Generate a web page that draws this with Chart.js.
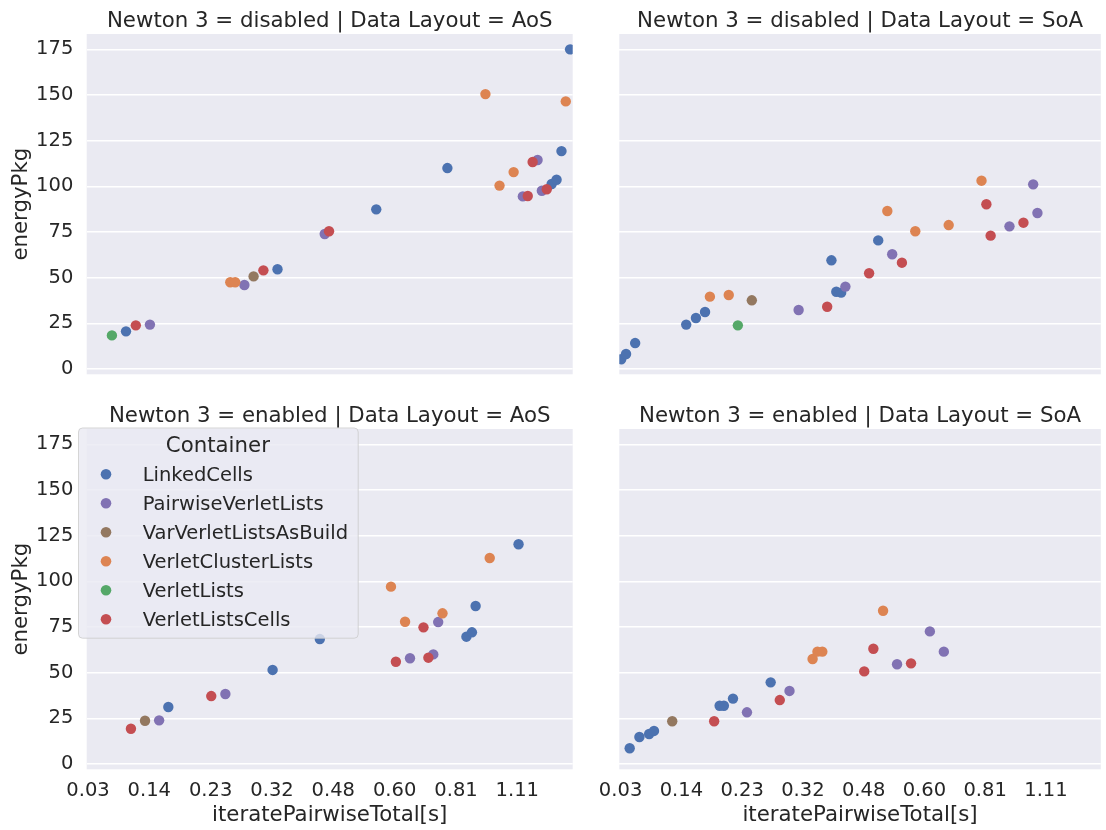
<!DOCTYPE html>
<html>
<head>
<meta charset="utf-8">
<script src="https://cdn.jsdelivr.net/npm/chart.js@4.4.1/dist/chart.umd.min.js"></script>
<style>
  html, body { margin: 0; padding: 0; background: #ffffff; }
  #wrap { position: relative; width: 1106px; height: 830px; overflow: hidden; }
  #wrap canvas { position: absolute; left: 0; top: 0; }
</style>
</head>
<body>
<div id="wrap">
  <canvas id="cTL" width="1106" height="830"></canvas>
  <canvas id="cTR" width="1106" height="830"></canvas>
  <canvas id="cBL" width="1106" height="830"></canvas>
  <canvas id="cBR" width="1106" height="830"></canvas>
</div>
<script>
// ---------------- DATA ----------------
const containers = ["LinkedCells", "PairwiseVerletLists", "VarVerletListsAsBuild",
                    "VerletClusterLists", "VerletLists", "VerletListsCells"];
const containerColors = ["#4C72B0", "#8172B3", "#937860", "#DD8452", "#55A868", "#C44E52"];

// x axis is an evenly spaced (categorical-like) axis; positions are in tick units
const xTickLabels = ["0.03", "0.14", "0.23", "0.32", "0.48", "0.60", "0.81", "1.11"];
const yTicks = [0, 25, 50, 75, 100, 125, 150, 175];

// Newton 3 = disabled | Data Layout = AoS
const offAoS_x = [0.39, 0.62, 0.78, 1.01, 2.32, 2.40, 2.55, 2.70, 2.86, 3.09, 3.86, 3.93, 4.70, 5.86,
                  6.48, 6.71, 6.94, 7.09, 7.17, 7.33, 7.25, 7.40, 7.48, 7.56, 7.64, 7.72, 7.79, 7.86];
const offAoS_y = [18.4, 20.6, 23.9, 24.3, 47.5, 47.5, 46.0, 50.7, 54.0, 54.6, 73.9, 75.4, 87.4, 110.0,
                  150.5, 100.4, 107.8, 94.5, 94.7, 114.4, 113.3, 97.6, 98.4, 101.3, 103.6, 119.3, 146.5, 175.0];
const offAoS_c = [4, 0, 5, 1, 3, 3, 1, 2, 5, 0, 1, 5, 0, 0,
                  3, 3, 3, 1, 5, 1, 5, 1, 5, 0, 0, 0, 3, 0];

// Newton 3 = disabled | Data Layout = SoA
const offSoA_x = [0.01, 0.09, 0.24, 1.08, 1.24, 1.39, 1.47, 1.78, 1.93, 2.16, 2.93, 3.40, 3.47, 3.55, 3.63,
                  3.70, 4.09, 4.24, 4.39, 4.47, 4.63, 4.85, 5.40, 5.94, 6.02, 6.09, 6.40, 6.63, 6.79, 6.86];
const offSoA_y = [5.3, 8.2, 14.2, 24.3, 27.9, 31.2, 39.6, 40.5, 23.9, 37.6, 32.3, 34.1, 59.5, 42.3, 41.8,
                  45.1, 52.4, 70.4, 86.5, 62.8, 58.2, 75.4, 78.8, 103.1, 90.2, 73.0, 78.1, 80.1, 101.1, 85.4];
const offSoA_c = [0, 0, 0, 0, 0, 0, 3, 3, 4, 2, 1, 5, 0, 0, 0,
                  1, 5, 0, 3, 1, 5, 3, 3, 3, 5, 5, 1, 5, 1, 1];

// Newton 3 = enabled | Data Layout = AoS
const onAoS_x = [0.70, 0.93, 1.16, 1.31, 2.01, 2.24, 3.01, 3.78, 4.94, 5.17, 5.02,
                 5.25, 5.47, 5.71, 5.78, 5.63, 5.55, 6.17, 6.26, 6.32, 6.55, 7.02];
const onAoS_y = [19.3, 23.7, 23.9, 31.2, 37.2, 38.3, 51.5, 68.4, 97.1, 77.9, 56.0,
                 57.9, 74.8, 77.7, 82.5, 60.0, 58.2, 69.7, 72.1, 86.5, 112.8, 120.3];
const onAoS_c = [5, 2, 1, 0, 5, 1, 0, 0, 3, 3, 5,
                 1, 5, 1, 3, 1, 5, 0, 0, 0, 3, 0];

// Newton 3 = enabled | Data Layout = SoA
const onSoA_x = [0.15, 0.31, 0.47, 0.55, 0.85, 1.54, 1.63, 1.70, 1.85, 2.08, 2.47, 2.62,
                 2.78, 3.16, 3.24, 3.32, 4.01, 4.16, 4.32, 4.55, 4.78, 5.09, 5.32];
const onSoA_y = [8.6, 14.8, 16.4, 18.1, 23.4, 23.4, 31.9, 31.9, 35.8, 28.3, 44.7, 35.0,
                 40.0, 57.5, 61.5, 61.5, 50.7, 63.1, 83.9, 54.6, 55.1, 72.6, 61.5];
const onSoA_c = [0, 0, 0, 0, 2, 5, 0, 0, 0, 1, 0, 5,
                 1, 3, 3, 3, 5, 5, 3, 1, 5, 1, 1];

// ---------------- STYLE / LAYOUT ----------------
const FONT = "'DejaVu Sans', 'Liberation Sans', sans-serif";
const TEXT = "#262626";
const BG = "#EAEAF2";
const TICK_SIZE = 19.5;
const LABEL_SIZE = 21.3;
const X_RANGE = [-0.021, 7.903];
const Y_RANGE = [-2.9, 183.4];

Chart.defaults.font.family = FONT;
Chart.defaults.color = TEXT;

const panelPlugin = {
  id: 'panel',
  beforeDraw(chart, args, opts) {
    const { ctx, chartArea: a } = chart;
    ctx.save();
    ctx.fillStyle = BG;
    ctx.fillRect(a.left, a.top, a.right - a.left, a.bottom - a.top);
    ctx.restore();
  },
  afterDraw(chart, args, opts) {
    const { ctx, chartArea: a } = chart;
    ctx.save();
    ctx.fillStyle = TEXT;
    ctx.font = LABEL_SIZE + "px " + FONT;
    ctx.textAlign = 'center';
    ctx.textBaseline = 'alphabetic';
    ctx.fillText(opts.text || '', (a.left + a.right) / 2, a.top - 7.3);
    ctx.restore();
  }
};

const boxLegendPlugin = {
  id: 'boxLegend',
  afterDatasetsDraw(chart, args, opts) {
    if (!opts.show) return;
    const ctx = chart.ctx;
    const L = 78, T = 427.5, W = 279.7, H = 210.2, R = 4;
    ctx.save();
    ctx.beginPath();
    ctx.roundRect(L + 0.5, T + 0.5, W, H, R);
    ctx.fillStyle = "rgba(234,234,242,0.8)";
    ctx.fill();
    ctx.strokeStyle = "rgba(204,204,204,0.8)";
    ctx.lineWidth = 1;
    ctx.stroke();
    ctx.fillStyle = TEXT;
    ctx.font = LABEL_SIZE + "px " + FONT;
    ctx.textAlign = 'center';
    ctx.textBaseline = 'alphabetic';
    ctx.fillText(opts.title, L + W / 2, 451.5);
    ctx.font = TICK_SIZE + "px " + FONT;
    ctx.textAlign = 'left';
    chart.data.datasets.forEach((ds, i) => {
      const cy = 474.3 + 29 * i;
      ctx.beginPath();
      ctx.arc(106, cy, 5.3, 0, Math.PI * 2);
      ctx.fillStyle = ds.backgroundColor;
      ctx.fill();
      ctx.fillStyle = TEXT;
      ctx.fillText(ds.label, 142.7, cy + 7.1);
    });
    ctx.restore();
  }
};

function buildDatasets(xs, ys, cs) {
  return containers.map((name, k) => ({
    label: name,
    data: xs.map((x, i) => ({ x: x, y: ys[i], c: cs[i] })).filter(p => p.c === k),
    backgroundColor: containerColors[k],
    borderWidth: 0,
    pointRadius: 5.2,
    pointHoverRadius: 5.2,
    showLine: false,
    clip: 0,
    order: -k
  }));
}

function makeChart(id, p) {
  const yAxisW = p.leftCol ? 86.7 : 0;
  const xAxisH = p.bottomRow ? (830 - p.bottom) : 0;
  new Chart(document.getElementById(id), {
    type: 'scatter',
    data: { datasets: buildDatasets(p.xs, p.ys, p.cs) },
    plugins: [panelPlugin, boxLegendPlugin],
    options: {
      responsive: false,
      animation: false,
      events: [],
      layout: {
        padding: {
          left: p.left - yAxisW,
          top: p.top,
          right: 1106 - p.right,
          bottom: 830 - p.bottom - xAxisH
        }
      },
      plugins: {
        legend: { display: false },
        tooltip: { enabled: false },
        panel: { text: p.title },
        boxLegend: { show: !!p.legend, title: "Container" }
      },
      scales: {
        x: {
          type: 'linear',
          min: X_RANGE[0], max: X_RANGE[1],
          afterBuildTicks: s => { s.ticks = xTickLabels.map((_, i) => ({ value: i })); },
          afterFit: s => { s.height = xAxisH; },
          ticks: {
            display: p.bottomRow,
            callback: (v, i) => xTickLabels[i],
            font: { size: TICK_SIZE, family: FONT },
            color: TEXT,
            padding: 9.5,
            maxRotation: 0, autoSkip: false
          },
          grid: { display: false, drawTicks: false },
          border: { display: false },
          title: {
            display: p.bottomRow,
            text: "iteratePairwiseTotal[s]",
            font: { size: LABEL_SIZE, family: FONT },
            color: TEXT,
            padding: { top: 0, bottom: 1.7 }
          }
        },
        y: {
          type: 'linear',
          min: Y_RANGE[0], max: Y_RANGE[1],
          afterBuildTicks: s => { s.ticks = yTicks.map(v => ({ value: v })); },
          afterFit: s => { s.width = yAxisW; },
          ticks: {
            display: p.leftCol,
            font: { size: TICK_SIZE, family: FONT },
            color: TEXT,
            padding: 13.4
          },
          grid: { color: "#ffffff", lineWidth: 1.5, drawTicks: false },
          border: { display: false },
          title: {
            display: p.leftCol,
            text: "energyPkg",
            font: { size: LABEL_SIZE, family: FONT },
            color: TEXT,
            padding: { top: 8.2, bottom: 0 }
          }
        }
      }
    }
  });
}

makeChart('cTL', { xs: offAoS_x, ys: offAoS_y, cs: offAoS_c, title: "Newton 3 = disabled | Data Layout = AoS",
  left: 86.7, right: 572.7, top: 34, bottom: 374.3, leftCol: true, bottomRow: false });
makeChart('cTR', { xs: offSoA_x, ys: offSoA_y, cs: offSoA_c, title: "Newton 3 = disabled | Data Layout = SoA",
  left: 619.3, right: 1105.3, top: 34, bottom: 374.3, leftCol: false, bottomRow: false });
makeChart('cBL', { xs: onAoS_x, ys: onAoS_y, cs: onAoS_c, title: "Newton 3 = enabled | Data Layout = AoS",
  left: 86.7, right: 572.7, top: 429, bottom: 769.3, leftCol: true, bottomRow: true, legend: true });
makeChart('cBR', { xs: onSoA_x, ys: onSoA_y, cs: onSoA_c, title: "Newton 3 = enabled | Data Layout = SoA",
  left: 619.3, right: 1105.3, top: 429, bottom: 769.3, leftCol: false, bottomRow: true });
</script>
</body>
</html>
